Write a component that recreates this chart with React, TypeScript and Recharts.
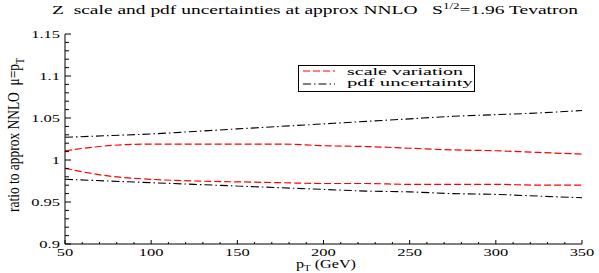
import { LineChart, Line, XAxis, YAxis } from 'recharts';

const pT = [50, 75, 100, 125, 150, 175, 200, 225, 250, 275, 300, 325, 350];
const scaleUp = [1.011, 1.017, 1.019, 1.019, 1.019, 1.019, 1.017, 1.016, 1.014, 1.012, 1.011, 1.009, 1.007];
const scaleDown = [0.99, 0.981, 0.977, 0.975, 0.974, 0.973, 0.972, 0.972, 0.971, 0.971, 0.971, 0.97, 0.97];
const pdfUp = [1.027, 1.029, 1.031, 1.034, 1.037, 1.04, 1.043, 1.046, 1.049, 1.052, 1.054, 1.056, 1.059];
const pdfDown = [0.977, 0.975, 0.973, 0.971, 0.969, 0.967, 0.965, 0.963, 0.962, 0.96, 0.959, 0.957, 0.955];

const xTicks = [
  50, 60, 70, 80, 90, 100, 110, 120, 130, 140, 150, 160, 170, 180, 190, 200,
  210, 220, 230, 240, 250, 260, 270, 280, 290, 300, 310, 320, 330, 340, 350,
];
const xMajor = [50, 100, 150, 200, 250, 300, 350];
const yTicks = [
  0.9, 0.91, 0.92, 0.93, 0.94, 0.95, 0.96, 0.97, 0.98, 0.99, 1, 1.01, 1.02,
  1.03, 1.04, 1.05, 1.06, 1.07, 1.08, 1.09, 1.1, 1.11, 1.12, 1.13, 1.14, 1.15,
];
const yMajor = [0.9, 0.95, 1, 1.05, 1.1, 1.15];

const data = pT.map((x, i) => ({
  pT: x,
  scaleUp: scaleUp[i],
  scaleDown: scaleDown[i],
  pdfUp: pdfUp[i],
  pdfDown: pdfDown[i],
}));

const FONT = 'Liberation Serif, Times New Roman, serif';
const txt = { fontFamily: FONT, whiteSpace: 'pre' as const };
const RED_DASH = '7 3';
const DASH_DOT = '8 3 1.5 3';

// ticks point into the plot, like the original
const BottomTick = ({ x, y, payload }: any) => {
  const major = xMajor.includes(payload.value);
  return (
    <g>
      <line x1={x} y1={y} x2={x} y2={y - (major ? 4 : 2)} stroke="#000" />
      {major && (
        <text
          x={x}
          y={y + 12}
          textAnchor="middle"
          fontSize={11}
          style={txt}
          fill="#000"
          transform={`translate(${x} 0) scale(1.5 1) translate(${-x} 0)`}
        >
          {payload.value}
        </text>
      )}
    </g>
  );
};

const TopTick = ({ x, y, payload }: any) => {
  const major = xMajor.includes(payload.value);
  return <line x1={x} y1={y} x2={x} y2={y + (major ? 4 : 2)} stroke="#000" />;
};

const LeftTick = ({ x, y, payload }: any) => {
  const major = yMajor.includes(payload.value);
  return (
    <g>
      <line x1={x} y1={y} x2={x + (major ? 6 : 4)} y2={y} stroke="#000" />
      {major && (
        <text
          x={x - 5}
          y={y + 4}
          textAnchor="end"
          fontSize={11}
          style={txt}
          fill="#000"
          transform={`translate(${x - 5} 0) scale(1.5 1) translate(${-(x - 5)} 0)`}
        >
          {String(payload.value)}
        </text>
      )}
    </g>
  );
};

const RightTick = ({ x, y, payload }: any) => {
  const major = yMajor.includes(payload.value);
  return <line x1={x} y1={y} x2={x - (major ? 6 : 4)} y2={y} stroke="#000" />;
};

export default function App() {
  return (
    <div style={{ position: 'absolute', left: 0, top: 0, width: 599, height: 273, background: '#fff' }}>
      <LineChart
        width={599}
        height={273}
        data={data}
        margin={{ top: 34, right: 17, bottom: 0, left: 0 }}
      >
        <XAxis
          dataKey="pT"
          type="number"
          domain={[50, 350]}
          ticks={xTicks}
          interval={0}
          height={29}
          tickSize={0}
          tickMargin={0}
          tickLine={false}
          axisLine={{ stroke: '#000' }}
          tick={<BottomTick />}
        />
        <XAxis
          xAxisId="top"
          orientation="top"
          type="number"
          domain={[50, 350]}
          ticks={xTicks}
          interval={0}
          height={0}
          tickSize={0}
          tickMargin={0}
          tickLine={false}
          axisLine={{ stroke: '#000' }}
          tick={<TopTick />}
        />
        <YAxis
          type="number"
          domain={[0.9, 1.15]}
          ticks={yTicks}
          interval={0}
          width={65}
          tickSize={0}
          tickMargin={0}
          tickLine={false}
          axisLine={{ stroke: '#000' }}
          tick={<LeftTick />}
          allowDataOverflow
        />
        <YAxis
          yAxisId="right"
          orientation="right"
          type="number"
          domain={[0.9, 1.15]}
          ticks={yTicks}
          interval={0}
          width={0}
          tickSize={0}
          tickMargin={0}
          tickLine={false}
          axisLine={{ stroke: '#777', strokeWidth: 2 }}
          tick={<RightTick />}
        />
        <Line type="monotone" dataKey="scaleUp" stroke="#ff0000" strokeWidth={1.2} strokeDasharray={RED_DASH} dot={false} isAnimationActive={false} />
        <Line type="monotone" dataKey="scaleDown" stroke="#ff0000" strokeWidth={1.2} strokeDasharray={RED_DASH} dot={false} isAnimationActive={false} />
        <Line type="monotone" dataKey="pdfUp" stroke="#000" strokeWidth={1.1} strokeDasharray={DASH_DOT} dot={false} isAnimationActive={false} />
        <Line type="monotone" dataKey="pdfDown" stroke="#000" strokeWidth={1.1} strokeDasharray={DASH_DOT} dot={false} isAnimationActive={false} />
      </LineChart>

      <svg
        width={599}
        height={273}
        style={{ position: 'absolute', left: 0, top: 0, pointerEvents: 'none', fontFamily: FONT }}
      >
        <text x={52} y={14} fontSize={12} textLength={526} lengthAdjust="spacingAndGlyphs" style={txt}>
          {'Z  scale and pdf uncertainties at approx NNLO   S'}
          <tspan dy={-5} fontSize={8}>1/2</tspan>
          <tspan dy={5}>=1.96 Tevatron</tspan>
        </text>

        <text x={296} y={268} fontSize={12} textLength={60} lengthAdjust="spacingAndGlyphs" style={txt}>
          p<tspan dy={3} fontSize={8}>T</tspan>
          <tspan dy={-3}>{' (GeV)'}</tspan>
        </text>

        <text
          transform="translate(19 135) scale(1.5 1) rotate(-90)"
          textAnchor="middle"
          fontSize={11}
          textLength={154}
          lengthAdjust="spacingAndGlyphs"
          style={txt}
        >
          {'ratio to approx NNLO  μ=p'}
          <tspan dy={3} fontSize={8}>T</tspan>
        </text>

        <g>
          <rect x={298.5} y={65.5} width={176} height={26} fill="#fff" stroke="#000" />
          <line x1={303} y1={71} x2={335} y2={71} stroke="#ff0000" strokeWidth={1.2} strokeDasharray={RED_DASH} />
          <text x={347} y={75} fontSize={11} textLength={116} lengthAdjust="spacingAndGlyphs" style={txt}>scale variation</text>
          <line x1={303} y1={84} x2={335} y2={84} stroke="#000" strokeWidth={1.1} strokeDasharray={DASH_DOT} />
          <text x={347} y={86} fontSize={11} textLength={126} lengthAdjust="spacingAndGlyphs" style={txt}>pdf uncertainty</text>
        </g>
      </svg>
    </div>
  );
}
